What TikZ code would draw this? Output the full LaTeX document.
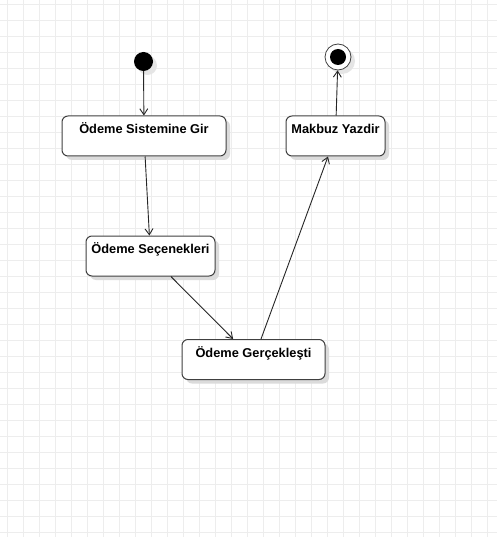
\documentclass[tikz,border=0pt]{standalone}
\usepackage{fontspec}
\setmainfont{Liberation Sans}
\usetikzlibrary{arrows.meta,shadows}

\begin{document}
\begin{tikzpicture}
		[	x=1pt,y=-1pt,
		gridline/.style={draw=black!7,line width=0.8pt},
		state/.style={rectangle,rounded corners=6pt,draw=black!75,line width=1pt,fill=white,
			font=\fontsize{12.8}{14}\selectfont\bfseries,inner xsep=0pt,inner ysep=4pt,
			text height=13.5pt,text depth=18.5pt,
			drop shadow={shadow xshift=4pt,shadow yshift=-4pt,fill=black!14,opacity=1}},
		startstate/.style={circle,fill=black,minimum size=19pt,inner sep=0pt,
			drop shadow={shadow xshift=4pt,shadow yshift=-4pt,fill=black!10,opacity=1}},
		endstate/.style={circle,draw=black!75,line width=0.8pt,fill=white,minimum size=26pt,inner sep=0pt,
			path picture={\fill[black] (path picture bounding box.center) circle (8pt);},
			drop shadow={shadow xshift=4pt,shadow yshift=-4pt,fill=black!10,opacity=1}},
		flow/.style={-{Straight Barb[length=6pt,width=8pt]},line width=0.9pt,draw=black!85}
		]
		\fill[white] (0,0) rectangle (497,537);
		\useasboundingbox (0,0) rectangle (497,537);
		% grid
		\foreach \gx in {7,23,...,495} \draw[gridline] (\gx,0) -- (\gx,537);
		\foreach \gy in {4,20,...,532} \draw[gridline] (0,\gy) -- (497,\gy);

		\node[startstate] (start) at (143.5,61.5){};
		\node[state,minimum width=164pt] (sistem) at (144,136){Ödeme Sistemine Gir};
		\node[state,minimum width=129pt] (secenek) at (150.5,256){Ödeme Seçenekleri};
		\node[state,minimum width=143pt] (gercek) at (253.5,359.5){Ödeme Gerçekleşti};
		\node[state,minimum width=99pt] (makbuz) at (335.5,136){Makbuz Yazdir};
		\node[endstate] (end) at (338,57){};

		\draw[flow] (start) -- (sistem);
		\draw[flow] (sistem) -- (secenek);
		\draw[flow] (secenek) -- (gercek);
		\draw[flow] (gercek) -- (makbuz);
		\draw[flow] (makbuz) -- (end);
	\end{tikzpicture}
\end{document}
